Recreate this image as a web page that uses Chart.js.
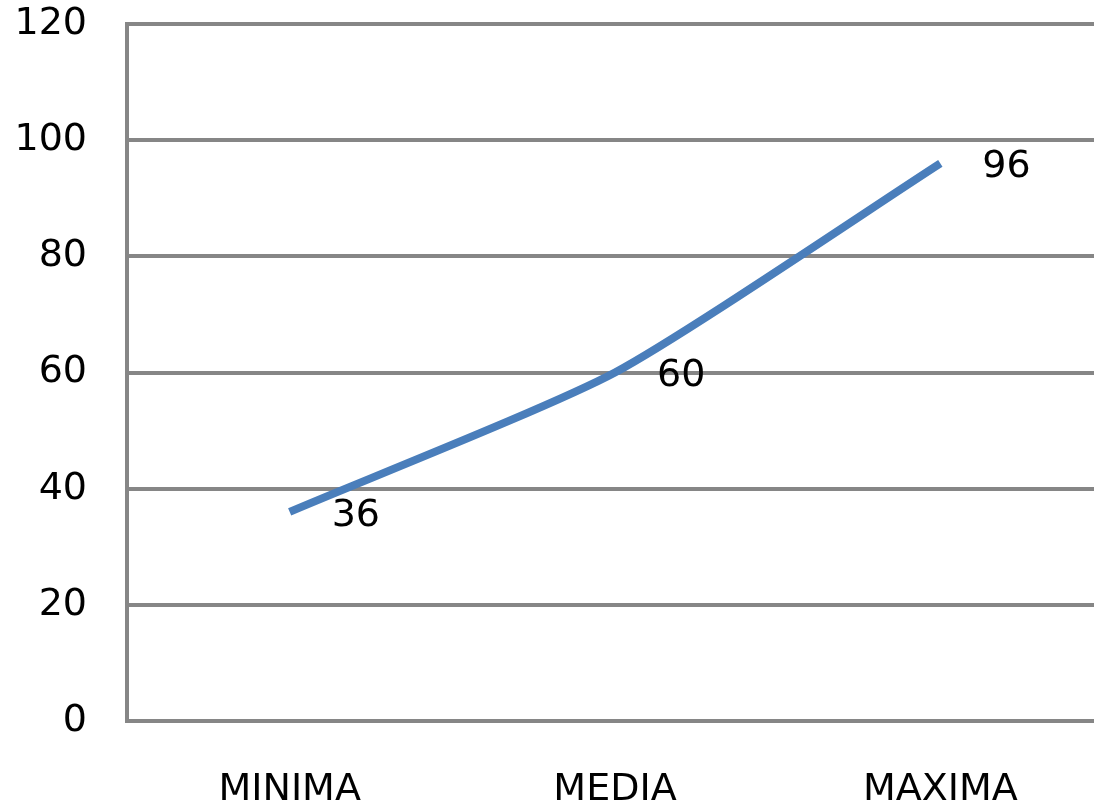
<!DOCTYPE html>
<html>
<head>
<meta charset="utf-8">
<script src="https://cdn.jsdelivr.net/npm/chart.js@4/dist/chart.umd.min.js"></script>
<style>
  html, body { margin: 0; padding: 0; background: #fff; overflow: hidden; }
  #wrap { width: 1110px; height: 802px; }
</style>
</head>
<body>
<div id="wrap"><canvas id="c" width="1110" height="802"></canvas></div>
<script>
const categories = ['MINIMA', 'MEDIA', 'MAXIMA'];
const values = [36, 60, 96];
const yTicks = [0, 20, 40, 60, 80, 100, 120];

const labelPlugin = {
  id: 'pointLabels',
  afterDatasetsDraw(chart) {
    const ctx = chart.ctx;
    const meta = chart.getDatasetMeta(0);
    ctx.save();
    ctx.font = '38px "DejaVu Sans"';
    ctx.fillStyle = '#000';
    ctx.textAlign = 'left';
    ctx.textBaseline = 'middle';
    meta.data.forEach((pt, i) => {
      ctx.fillText(String(values[i]), pt.x + 42, pt.y + 4);
    });
    ctx.restore();
  }
};

new Chart(document.getElementById('c'), {
  type: 'line',
  data: {
    labels: categories,
    datasets: [{
      data: values,
      borderColor: '#4A7EBB',
      borderWidth: 8,
      tension: 0.2,
      pointRadius: 0,
      fill: false,
      borderCapStyle: 'butt'
    }]
  },
  options: {
    responsive: false,
    animation: false,
    devicePixelRatio: 1,
    layout: { padding: { top: 24, right: 7, bottom: 0, left: 0 } },
    plugins: { legend: { display: false }, tooltip: { enabled: false } },
    scales: {
      x: {
        offset: true,
        grid: { display: false, drawTicks: false },
        border: { display: true, color: '#868686', width: 4 },
        ticks: { color: '#000', font: { family: 'DejaVu Sans', size: 38 }, padding: 46, maxRotation: 0 },
        afterFit(s) { s.height = 81; s.paddingLeft = 0; s.paddingRight = 0; }
      },
      y: {
        min: 0, max: 120,
        afterBuildTicks(s) { s.ticks = yTicks.map(v => ({ value: v })); },
        grid: { color: '#868686', lineWidth: 4, drawTicks: false },
        border: { display: true, color: '#868686', width: 4 },
        ticks: { color: '#000', font: { family: 'DejaVu Sans', size: 38 }, padding: 40 },
        afterFit(s) { s.width = 127; s.paddingTop = 0; s.paddingBottom = 0; }
      }
    }
  },
  plugins: [labelPlugin]
});
</script>
</body>
</html>
